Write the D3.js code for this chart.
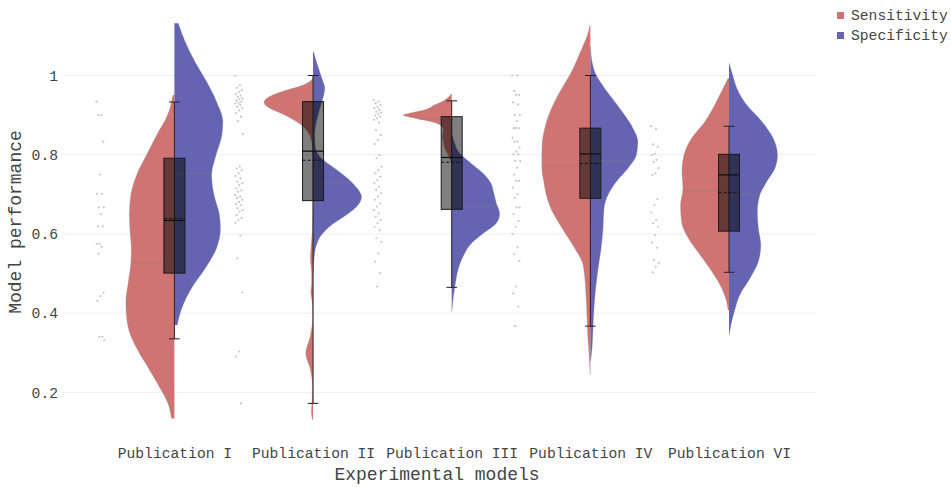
<!DOCTYPE html>
<html>
<head>
<meta charset="utf-8">
<script src="https://cdn.jsdelivr.net/npm/d3@7"></script>
<style>
  html, body { margin: 0; padding: 0; background: #fff; }
  svg { display: block; }
  text { font-family: "Liberation Mono", "Courier New", monospace; fill: #444; }
</style>
</head>
<body>
<svg id="chart" width="951" height="487"></svg>
<script>
// ---- data -------------------------------------------------------------
const categories = ["Publication I", "Publication II", "Publication III", "Publication IV", "Publication VI"];
const seriesNames = ["Sensitivity", "Specificity"];
const yTicks = [0.2, 0.4, 0.6, 0.8, 1];

// kernel density profiles: [value, relative density]
const sensDensity = [
  [[0.951,0.03],[0.900,0.14],[0.850,0.36],[0.799,0.57],[0.749,0.77],[0.698,0.89],[0.648,0.92],[0.598,0.90],[0.564,0.88],[0.526,0.89],[0.479,0.94],[0.429,0.99],[0.395,0.98],[0.353,0.92],[0.311,0.77],[0.261,0.53],[0.210,0.29],[0.168,0.12],[0.134,0.06]],
  [[1.0,0.0],[0.993,0.01],[0.976,0.2],[0.959,0.65],[0.942,0.95],[0.932,1.0],[0.917,0.88],[0.900,0.58],[0.875,0.24],[0.850,0.07],[0.825,0.02],[0.799,0.01],[0.75,0.005],[0.70,0.005],[0.62,0.01],[0.57,0.04],[0.538,0.055],[0.50,0.03],[0.475,0.03],[0.454,0.047],[0.43,0.02],[0.39,0.01],[0.34,0.06],[0.298,0.15],[0.26,0.06],[0.22,0.015],[0.18,0.02],[0.151,0.035],[0.13,0.01]],
  [[0.953,0.01],[0.934,0.2],[0.926,0.35],[0.915,0.51],[0.906,0.82],[0.900,0.99],[0.892,0.75],[0.883,0.41],[0.875,0.24],[0.862,0.17],[0.845,0.19],[0.833,0.17],[0.816,0.14],[0.799,0.07],[0.787,0.03],[0.778,0.005]],
  [[1.127,0.01],[1.102,0.06],[1.069,0.17],[1.035,0.29],[1.001,0.42],[0.968,0.58],[0.934,0.73],[0.900,0.85],[0.867,0.93],[0.833,0.98],[0.799,0.99],[0.766,0.99],[0.732,0.95],[0.698,0.90],[0.665,0.81],[0.631,0.66],[0.597,0.49],[0.564,0.32],[0.530,0.17],[0.496,0.12],[0.446,0.09],[0.395,0.07],[0.345,0.055],[0.311,0.035],[0.244,0.005]],
  [[0.993,0.02],[0.968,0.12],[0.926,0.29],[0.884,0.49],[0.842,0.76],[0.799,0.92],[0.757,0.96],[0.715,0.94],[0.673,0.99],[0.631,0.97],[0.589,0.83],[0.547,0.59],[0.505,0.35],[0.463,0.15],[0.429,0.05],[0.408,0.02]]
];
const specDensity = [
  [[1.132,0.08],[1.085,0.22],[1.035,0.42],[0.984,0.66],[0.934,0.86],[0.883,0.99],[0.850,0.97],[0.799,0.85],[0.749,0.76],[0.698,0.81],[0.648,0.92],[0.614,0.94],[0.564,0.86],[0.513,0.63],[0.463,0.35],[0.412,0.15],[0.370,0.06]],
  [[1.060,0.01],[1.027,0.09],[0.993,0.18],[0.968,0.24],[0.942,0.20],[0.917,0.14],[0.884,0.07],[0.850,0.035],[0.816,0.05],[0.791,0.17],[0.766,0.44],[0.740,0.71],[0.715,0.90],[0.694,0.99],[0.673,0.92],[0.648,0.68],[0.622,0.37],[0.597,0.17],[0.572,0.07],[0.538,0.02],[0.50,0.005]],
  [[0.850,0.01],[0.829,0.06],[0.804,0.16],[0.778,0.40],[0.753,0.64],[0.728,0.80],[0.703,0.86],[0.678,0.91],[0.651,0.98],[0.627,0.91],[0.601,0.64],[0.576,0.40],[0.542,0.23],[0.509,0.13],[0.475,0.075],[0.441,0.035],[0.404,0.005]],
  [[1.073,0.005],[1.035,0.035],[1.001,0.12],[0.968,0.29],[0.934,0.50],[0.900,0.70],[0.867,0.87],[0.833,0.97],[0.799,0.94],[0.766,0.77],[0.732,0.53],[0.698,0.36],[0.665,0.28],[0.614,0.26],[0.564,0.22],[0.513,0.16],[0.463,0.11],[0.412,0.075],[0.362,0.055],[0.311,0.035],[0.277,0.005]],
  [[1.031,0.005],[1.001,0.075],[0.968,0.16],[0.926,0.36],[0.884,0.67],[0.842,0.90],[0.799,0.99],[0.766,0.94],[0.732,0.77],[0.698,0.63],[0.656,0.58],[0.614,0.60],[0.572,0.65],[0.530,0.60],[0.488,0.43],[0.446,0.22],[0.404,0.11],[0.370,0.04],[0.345,0.005]]
];
const sensMean = [0.526, 0.84, 0.89, 0.772, 0.708];
const specMean = [0.753, 0.73, 0.67, 0.785, 0.70];

// combined box statistics per publication
const boxQ1     = [0.501, 0.684, 0.662, 0.690, 0.607];
const boxQ3     = [0.791, 0.934, 0.896, 0.867, 0.801];
const boxMedian = [0.634, 0.809, 0.793, 0.802, 0.749];
const boxMean   = [0.639, 0.786, 0.781, 0.778, 0.704];
const whiskerLo = [0.335, 0.172, 0.465, 0.367, 0.503];
const whiskerHi = [0.933, 1.000, 0.936, 1.000, 0.872];

// individual observations per publication
const observations = [
  [0.934,0.900,0.900,0.833,0.750,0.701,0.701,0.667,0.667,0.650,0.619,0.619,0.575,0.575,0.567,0.550,0.452,0.443,0.431,0.340,0.340,0.332],
  [1.0,0.976,0.969,0.963,0.958,0.953,0.949,0.946,0.942,0.940,0.937,0.934,0.931,0.929,0.926,0.921,0.917,0.912,0.905,0.896,0.885,0.852,
   0.770,0.765,0.761,0.753,0.746,0.740,0.732,0.728,0.723,0.715,0.710,0.707,0.698,0.694,0.691,0.686,0.680,0.676,0.673,0.665,0.660,0.656,0.648,0.640,0.635,0.628,0.596,0.538,0.452,0.303,0.290,0.172],
  [0.938,0.934,0.930,0.926,0.921,0.917,0.913,0.909,0.906,0.903,0.899,0.896,0.892,0.888,0.881,0.862,0.850,0.837,0.827,0.799,0.791,0.770,0.761,0.753,0.744,0.736,0.728,0.719,0.711,0.703,0.694,0.686,0.677,0.669,0.660,0.652,0.643,0.635,0.627,0.618,0.610,0.589,0.580,0.551,0.530,0.501,0.467],
  [1.0,1.0,0.961,0.951,0.951,0.932,0.927,0.900,0.900,0.885,0.867,0.867,0.867,0.843,0.833,0.833,0.818,0.808,0.801,0.801,0.784,0.784,0.767,0.750,0.734,0.734,0.717,0.700,0.691,0.667,0.667,0.650,0.633,0.618,0.600,0.566,0.549,0.532,0.467,0.450,0.416,0.367],
  [0.872,0.865,0.826,0.820,0.802,0.799,0.787,0.782,0.766,0.753,0.749,0.688,0.673,0.654,0.635,0.627,0.618,0.597,0.578,0.565,0.534,0.526,0.517,0.503]
];

// ---- layout ------------------------------------------------------------
const colors = { sens: "#cf7472", spec: "#6464b2" };
const plotLeft = 62, plotRight = 816;
const boxHalf = 10.5, capHalf = 5.3, pointOffset = -74, jitterWidth = 8;

const svg = d3.select("#chart");

const y = d3.scaleLinear().domain([0.2, 1]).range([392.3, 75.5]);
const x = d3.scalePoint().domain(categories).range([174.4, 729]);
const w = d3.scaleLinear().domain([0, 1]).range([0, 49]);

// grid
svg.append("g").selectAll("line").data(yTicks).join("line")
  .attr("x1", plotLeft).attr("x2", plotRight)
  .attr("y1", d => y(d)).attr("y2", d => y(d))
  .attr("stroke", "#eeeeee").attr("stroke-width", 1);

// y axis
const yAxis = svg.append("g").attr("transform", "translate(58,0)")
  .call(d3.axisLeft(y).tickValues(yTicks).tickSize(0).tickPadding(0)
    .tickFormat(d => d === 1 ? "1" : d3.format(".1f")(d)));
yAxis.select(".domain").remove();
yAxis.selectAll("text").style("font-size", "14.67px").attr("fill", "#444")
  .style("font-family", "'Liberation Mono', 'Courier New', monospace");

// x axis
const xAxis = svg.append("g").attr("transform", "translate(0,458)")
  .call(d3.axisBottom(x).tickSize(0).tickPadding(0));
xAxis.select(".domain").remove();
xAxis.selectAll("text").attr("y", 0).attr("dy", 0).style("font-size", "14.67px").attr("fill", "#444")
  .style("font-family", "'Liberation Mono', 'Courier New', monospace");

// half violins
function halfArea(cx, side) {
  return d3.area()
    .y(d => y(d[0]))
    .x0(cx)
    .x1(d => cx + side * w(d[1]))
    .curve(d3.curveMonotoneY);
}
function halfEdge(cx, side) {
  return d3.line()
    .y(d => y(d[0]))
    .x(d => cx + side * w(d[1]))
    .curve(d3.curveMonotoneY);
}
const violins = svg.append("g");
categories.forEach((c, i) => {
  const cx = x(c);
  [[sensDensity[i], -1, colors.sens], [specDensity[i], 1, colors.spec]].forEach(([dens, side, col]) => {
    const g = violins.append("g");
    g.append("path").datum(dens).attr("d", halfArea(cx, side)).attr("fill", col);
    g.append("path").datum(dens).attr("d", halfEdge(cx, side))
      .attr("fill", "none").attr("stroke", "rgba(150,150,150,0.35)").attr("stroke-width", 0.8);
  });
});

// violin mean lines
function densityAt(dens, v) {
  const sorted = dens.slice().sort((a, b) => a[0] - b[0]);
  const interp = d3.scaleLinear().domain(sorted.map(d => d[0])).range(sorted.map(d => d[1]));
  return interp(v);
}
const meanG = svg.append("g");
categories.forEach((c, i) => {
  const cx = x(c);
  [[sensMean[i], sensDensity[i], -1], [specMean[i], specDensity[i], 1]].forEach(([m, dens, side]) => {
    meanG.append("line")
      .attr("x1", cx).attr("x2", cx + side * w(densityAt(dens, m)))
      .attr("y1", y(m)).attr("y2", y(m))
      .attr("stroke", "rgba(128,128,128,0.45)").attr("stroke-width", 1);
  });
});

// observations, jittered to the left of each violin
const ptsG = svg.append("g");
categories.forEach((c, i) => {
  const cx = x(c) + pointOffset;
  ptsG.selectAll(null).data(observations[i]).join("circle")
    .attr("cx", (d, j) => cx + (((j * 0.618034) % 1) - 0.5) * jitterWidth)
    .attr("cy", d => y(d))
    .attr("r", 1.1)
    .attr("fill", "#b4b4b4").attr("opacity", 0.75);
});

// boxes
const boxG = svg.append("g");
categories.forEach((c, i) => {
  const cx = x(c);
  boxG.append("line").attr("x1", cx).attr("x2", cx)
    .attr("y1", y(whiskerHi[i])).attr("y2", y(whiskerLo[i]))
    .attr("stroke", "#222").attr("stroke-width", 1);
  [whiskerHi[i], whiskerLo[i]].forEach(v => {
    boxG.append("line").attr("x1", cx - capHalf).attr("x2", cx + capHalf)
      .attr("y1", y(v)).attr("y2", y(v)).attr("stroke", "#222").attr("stroke-width", 1);
  });
  boxG.append("rect")
    .attr("x", cx - boxHalf).attr("width", boxHalf * 2)
    .attr("y", y(boxQ3[i])).attr("height", y(boxQ1[i]) - y(boxQ3[i]))
    .attr("fill", "rgba(0,0,0,0.5)").attr("stroke", "#1a1a1a").attr("stroke-width", 1);
  boxG.append("line").attr("x1", cx - boxHalf).attr("x2", cx + boxHalf)
    .attr("y1", y(boxMedian[i])).attr("y2", y(boxMedian[i]))
    .attr("stroke", "#111").attr("stroke-width", 1.3);
  boxG.append("line").attr("x1", cx - boxHalf).attr("x2", cx + boxHalf)
    .attr("y1", y(boxMean[i])).attr("y2", y(boxMean[i]))
    .attr("stroke", "#111").attr("stroke-width", 1).attr("stroke-dasharray", "3,2");
});

// axis titles
svg.append("text").attr("x", 437).attr("y", 480).attr("text-anchor", "middle")
  .style("font-size", "18px").text("Experimental models");
svg.append("text").attr("transform", "translate(21,222) rotate(-90)").attr("text-anchor", "middle")
  .style("font-size", "18px").text("Model performance");

// legend
const legend = svg.append("g");
seriesNames.forEach((name, i) => {
  legend.append("rect").attr("x", 837).attr("y", 12 + i * 20).attr("width", 7).attr("height", 7)
    .attr("fill", i === 0 ? colors.sens : colors.spec);
  legend.append("text").attr("x", 851).attr("y", 20 + i * 20)
    .style("font-size", "14.67px").text(name);
});
</script>
</body>
</html>
